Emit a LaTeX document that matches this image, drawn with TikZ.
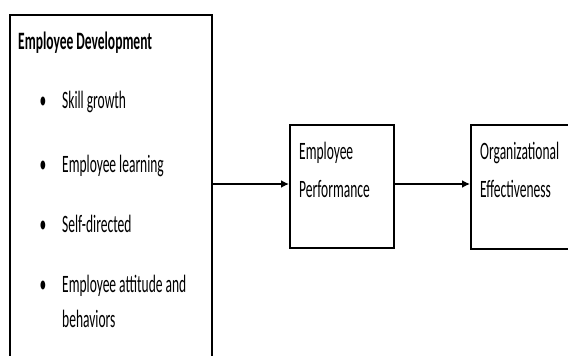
\documentclass[tikz,border=0pt]{standalone}
\usepackage{fontspec}
\setmainfont{Carlito}[FakeStretch=0.54]
\usetikzlibrary{arrows.meta}
\begin{document}
\begin{tikzpicture}[x=1pt,y=-1pt,
  box/.style={draw=black,line width=2pt,fill=none,inner sep=0pt,anchor=north west},
  txt/.style={anchor=base west,inner sep=0pt,text=black,font=\fontsize{25}{30}\selectfont},
  bul/.style={anchor=base,inner sep=0pt,text=black,font=\fontsize{25}{30}\selectfont},
  arr/.style={line width=2.4pt,-{Latex[length=8pt,width=8pt]}}]
\useasboundingbox (0,0) rectangle (568,356);
\clip (0,0) rectangle (568,356);
\node[box,minimum width=202pt,minimum height=380pt] (dev) at (9,14) {};
\node[box,minimum width=104pt,minimum height=123pt] (perf) at (289,124) {};
\node[box,minimum width=130pt,minimum height=124pt] (org) at (470,124) {};
\node[txt,font=\fontsize{25}{30}\selectfont\bfseries] (t0) at (18,49) {Employee Development};
\node[bul] (b1) at (43,108) {•};
\node[txt] (t1) at (62,108) {Skill growth};
\node[bul] (b2) at (43,172) {•};
\node[txt] (t2) at (62,172) {Employee learning};
\node[bul] (b3) at (43,232) {•};
\node[txt] (t3) at (62,232) {Self-directed};
\node[bul] (b4) at (43,292) {•};
\node[txt] (t4) at (62,292) {Employee attitude and};
\node[txt] (t5) at (62,327) {behaviors};
\node[txt] (p1) at (299,159) {Employee};
\node[txt] (p2) at (299,197) {Performance};
\node[txt] (o1) at (480,159) {Organizational};
\node[txt] (o2) at (480,197) {Effectiveness};
\draw[arr] ([yshift=2.5pt]dev.east |- perf.west) -- ([yshift=2.5pt]perf.west);
\draw[arr] ([yshift=2.5pt]perf.east) -- ([yshift=2.5pt]perf.east -| org.west);
\end{tikzpicture}
\end{document}
